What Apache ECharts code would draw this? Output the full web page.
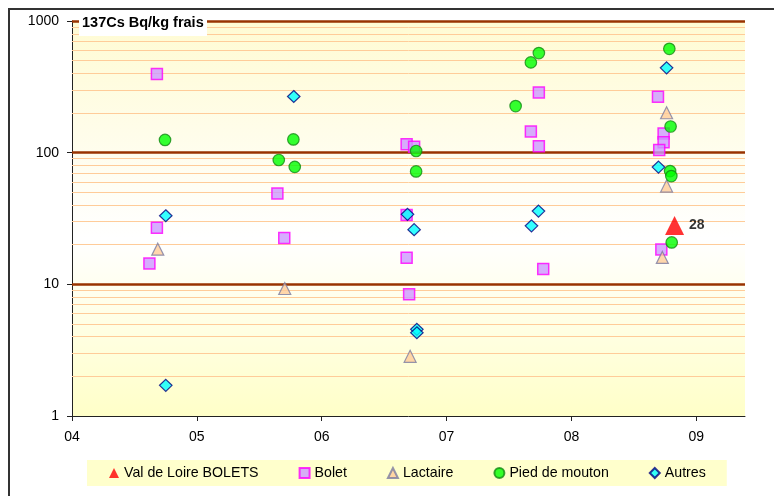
<!DOCTYPE html>
<html><head><meta charset="utf-8">
<script src="https://cdn.jsdelivr.net/npm/echarts@6/dist/echarts.min.js"></script>
<style>html,body{margin:0;padding:0;background:#fff}#c{width:774px;height:496px}</style>
</head><body><div id="c"></div>
<script>
const FONT = 'Arial, "Liberation Sans", sans-serif';
const xTicks = [4, 5, 6, 7, 8, 9];
const xTickLabels = ['04', '05', '06', '07', '08', '09'];
const yTicks = [1, 10, 100, 1000];
const yTickLabels = ['1', '10', '100', '1000'];
const majorGrid = [10, 100, 1000];
const minorGrid = [2,3,4,5,6,7,8,9,20,30,40,50,60,70,80,90,200,300,400,500,600,700,800,900];

const valLoireX = [8.826];
const valLoireY = [28];

const boletX = [4.68, 4.68, 4.62, 5.645, 5.70, 6.68, 6.74, 6.68, 6.68, 6.70, 7.739, 7.675, 7.739, 7.774, 8.693, 8.738, 8.738, 8.703, 8.72];
const boletY = [395, 26.9, 14.4, 49, 22.5, 116, 111, 33.6, 15.9, 8.4, 287, 145, 112, 13.1, 266, 140, 120, 105, 18.4];

const lactaireX = [4.687, 5.704, 6.708, 8.762, 8.762, 8.728];
const lactaireY = [18.5, 9.3, 2.84, 201, 55.8, 16.0];

const piedX = [4.745, 5.773, 5.656, 5.784, 6.756, 6.756, 7.739, 7.675, 7.553, 8.784, 8.794, 8.79, 8.80, 8.803];
const piedY = [125, 126, 88, 78, 103, 72, 571, 485, 226, 615, 158, 72.5, 66.4, 20.8];

const autresX = [4.751, 4.751, 5.776, 6.687, 6.74, 6.762, 6.762, 7.736, 7.68, 8.762, 8.697];
const autresY = [33.2, 1.71, 267, 34, 26, 4.55, 4.29, 36, 27.8, 441, 77.7];

const zip = (xs, ys) => xs.map((x, i) => [x, ys[i]]);
const labelFor = (ticks, labels) => v => {
  const i = ticks.findIndex(t => Math.abs(t - v) < 1e-6);
  return i >= 0 ? labels[i] : '';
};

const chart = echarts.init(document.getElementById('c'), null, {renderer: 'canvas'});
chart.setOption({
  animation: false,
  backgroundColor: '#fff',
  grid: {
    left: 72, right: 29, top: 21, bottom: 80, show: true, borderWidth: 0,
    outerBoundsMode: 'none',
    backgroundColor: new echarts.graphic.LinearGradient(0, 0, 0, 1, [
      {offset: 0, color: '#FFFBD3'},
      {offset: 0.55, color: '#FFFFFF'},
      {offset: 1, color: '#FFFFC8'}
    ])
  },
  xAxis: {
    type: 'value', min: 4, max: 9.39, interval: 1,
    axisLine: {show: true, lineStyle: {color: '#222', width: 1}},
    axisTick: {show: true, length: 5, lineStyle: {color: '#222'}, customValues: xTicks},
    axisLabel: {
      customValues: xTicks, margin: 14, color: '#000', fontSize: 14, fontFamily: FONT,
      formatter: labelFor(xTicks, xTickLabels)
    },
    splitLine: {show: false}
  },
  yAxis: {
    type: 'log', logBase: 10, min: 1, max: 1000,
    axisLine: {show: true, lineStyle: {color: '#222', width: 1}},
    axisTick: {show: true, length: 5, lineStyle: {color: '#222'}, customValues: yTicks},
    axisLabel: {customValues: yTicks, margin: 13, color: '#000', fontSize: 14, fontFamily: FONT,
                formatter: labelFor(yTicks, yTickLabels)},
    splitLine: {show: false}
  },
  legend: {
    left: 87, top: 460, orient: 'horizontal',
    backgroundColor: '#FFFFCC', padding: [6, 21, 6, 22],
    itemGap: 40, itemWidth: 10, itemHeight: 10,
    textStyle: {fontSize: 14.2, color: '#000', fontFamily: FONT},
    data: ['Val de Loire BOLETS', 'Bolet', 'Lactaire', 'Pied de mouton', 'Autres']
  },
  graphic: [
    {type: 'rect', z: 100, shape: {x: 9, y: 9, width: 900, height: 900},
     style: {fill: 'none', stroke: '#333', lineWidth: 2}},
    {type: 'rect', z: 100, shape: {x: 79, y: 10, width: 128, height: 26}, style: {fill: '#fff'}},
    {type: 'text', z: 101, x: 82, y: 23,
     style: {text: '137Cs Bq/kg frais', fill: '#000', font: 'bold 14.5px ' + FONT, verticalAlign: 'middle'}}
  ],
  series: [
    {
      name: 'gridlines', type: 'scatter', data: [], z: 1, silent: true,
      markLine: {
        silent: true, symbol: ['none', 'none'], label: {show: false}, animation: false,
        data: minorGrid.map(v => ({yAxis: v, lineStyle: {color: '#FFCC99', width: 1, type: 'solid'}}))
          .concat(majorGrid.map(v => ({yAxis: v, lineStyle: {color: '#993300', width: 2.5, type: 'solid'}})))
      }
    },
    {
      name: 'Val de Loire BOLETS', type: 'scatter', z: 5, symbol: 'triangle', symbolSize: 19,
      itemStyle: {color: '#FF0000', borderColor: '#FF0000', borderWidth: 0},
      label: {show: true, position: 'right', distance: 5, formatter: p => String(p.value[1]),
              color: '#000', fontWeight: 'bold', fontSize: 14, fontFamily: FONT},
      data: zip(valLoireX, valLoireY)
    },
    {
      name: 'Bolet', type: 'scatter', z: 5, symbol: 'rect', symbolSize: 11,
      itemStyle: {color: '#CC99FF', borderColor: '#FF00FF', borderWidth: 1.5},
      data: zip(boletX, boletY)
    },
    {
      name: 'Lactaire', type: 'scatter', z: 5, symbol: 'triangle', symbolSize: 12,
      itemStyle: {color: '#FFCC99', borderColor: '#7A7AA0', borderWidth: 1.2},
      data: zip(lactaireX, lactaireY)
    },
    {
      name: 'Pied de mouton', type: 'scatter', z: 5, symbol: 'circle', symbolSize: 11.5,
      itemStyle: {color: '#00FF00', borderColor: '#138A13', borderWidth: 1.2},
      data: zip(piedX, piedY)
    },
    {
      name: 'Autres', type: 'scatter', z: 5, symbol: 'diamond', symbolSize: [12.5, 12],
      itemStyle: {color: '#00FFFF', borderColor: '#000080', borderWidth: 1.2},
      data: zip(autresX, autresY)
    }
  ]
});
</script></body></html>
